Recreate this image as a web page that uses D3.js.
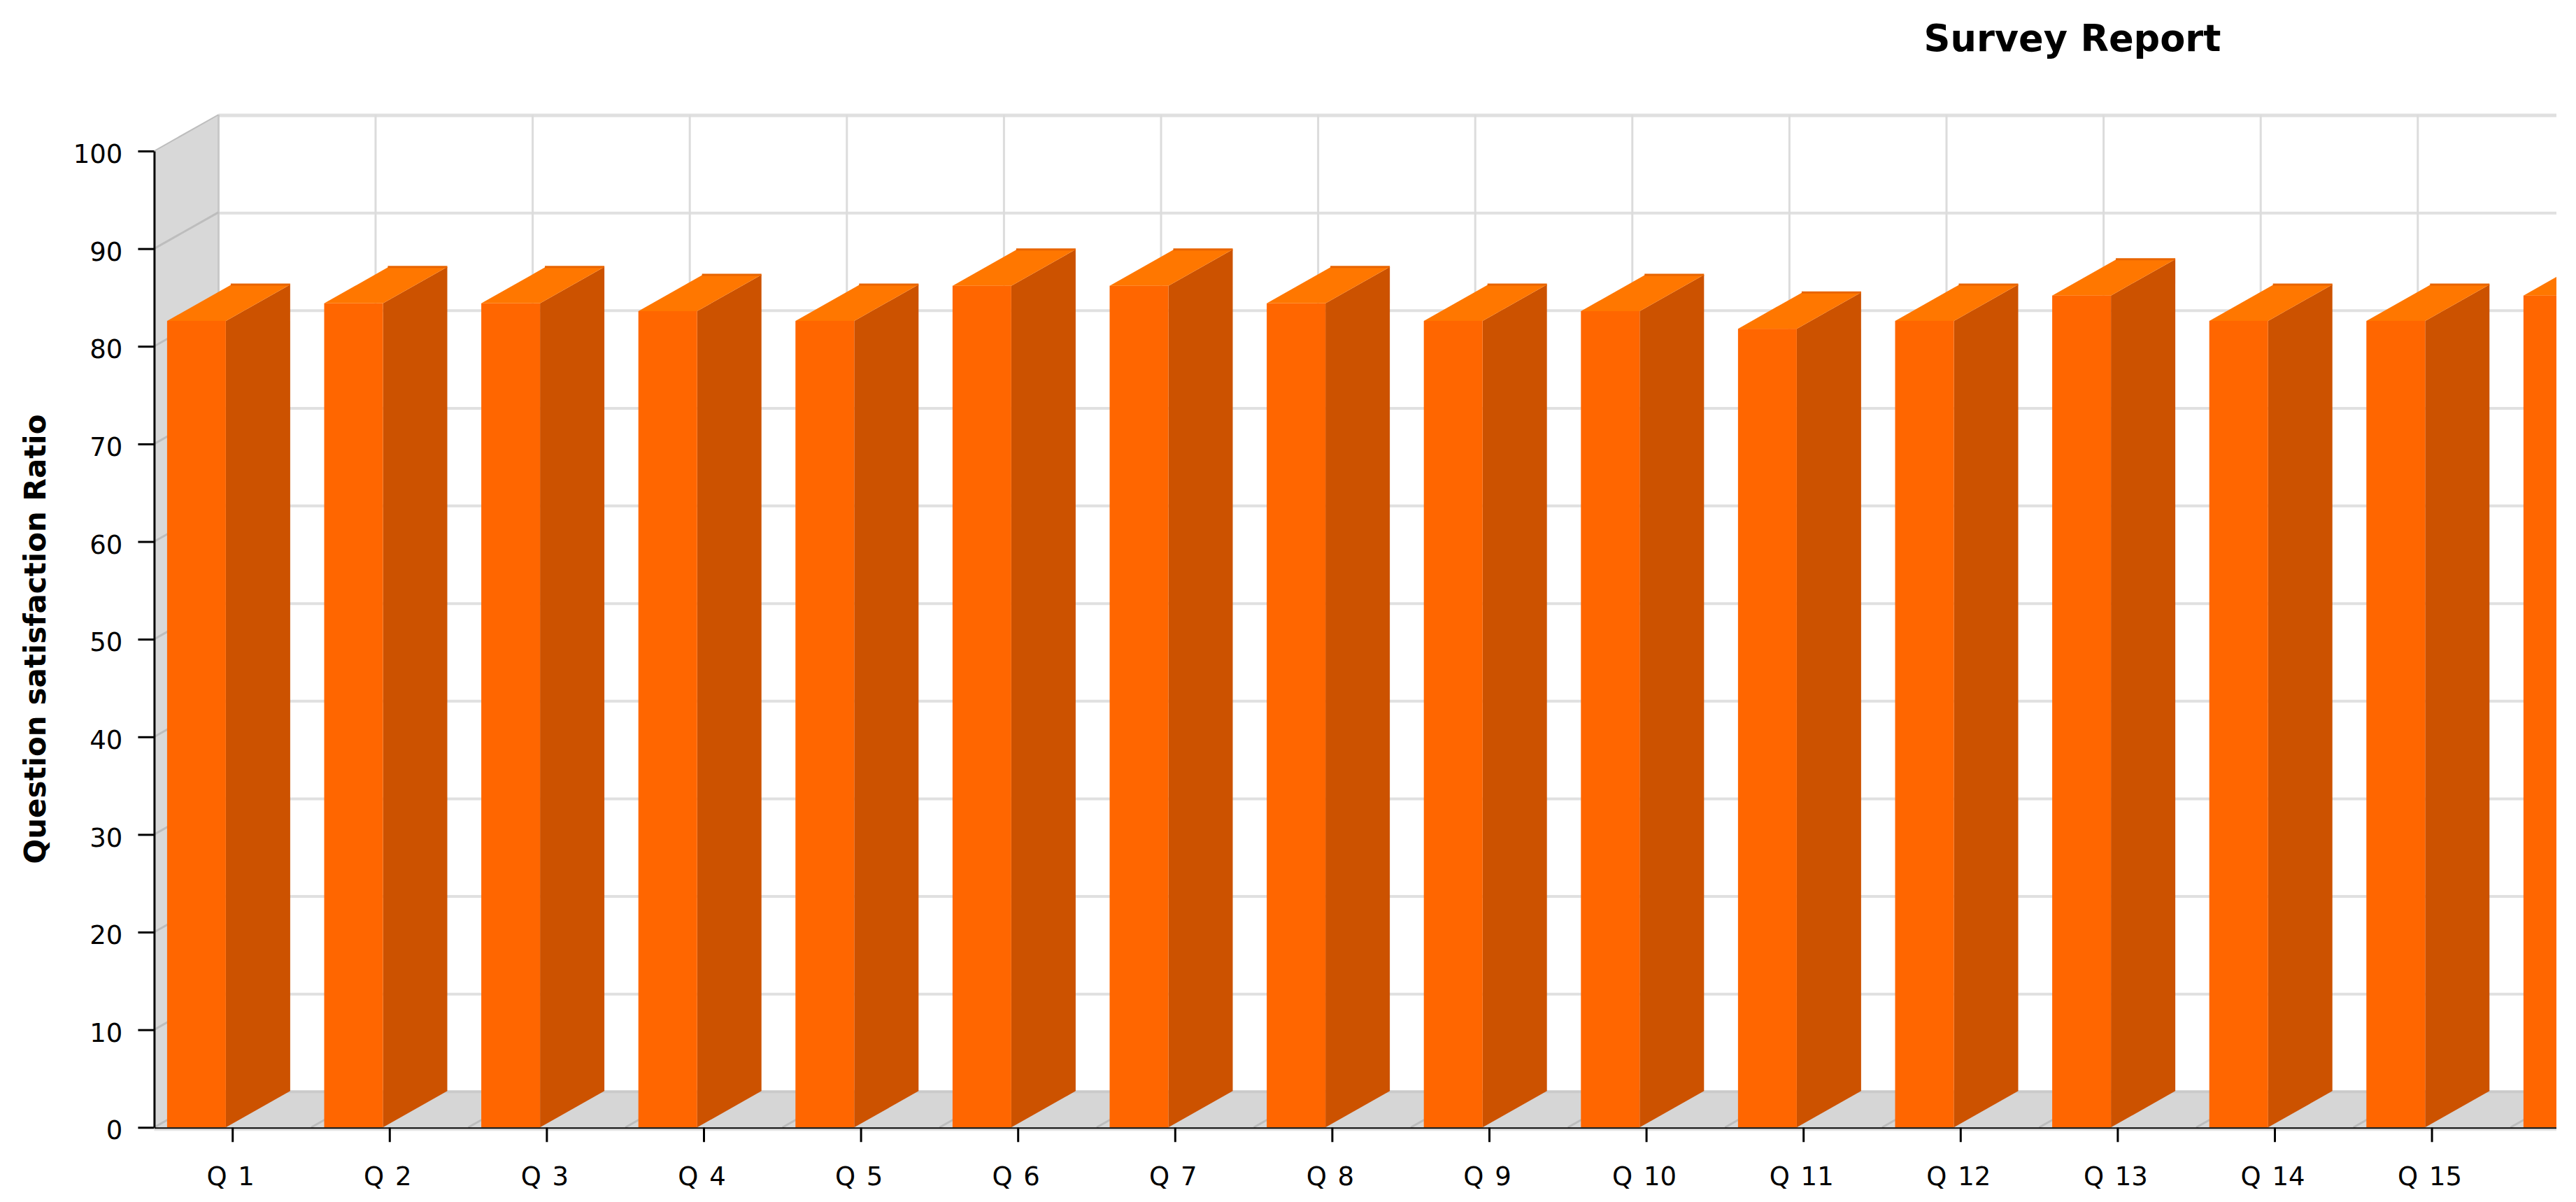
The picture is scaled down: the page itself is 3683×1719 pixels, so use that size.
<!DOCTYPE html>
<html>
<head>
<meta charset="utf-8">
<script src="https://cdn.jsdelivr.net/npm/d3@7/dist/d3.min.js"></script>
<style>
html,body{margin:0;padding:0;background:#fff;overflow:hidden}
svg{display:block}
text{font-family:"DejaVu Sans",Verdana,sans-serif;fill:#000}
</style>
</head>
<body>
<script>
const categories = ["Q 1","Q 2","Q 3","Q 4","Q 5","Q 6","Q 7","Q 8","Q 9","Q 10","Q 11","Q 12","Q 13","Q 14","Q 15","Q 16"];
const ratios = [82.6,84.4,84.4,83.6,82.6,86.2,86.2,84.4,82.6,83.6,81.8,82.6,85.2,82.6,82.6,85.2];
const yTicks = [0,10,20,30,40,50,60,70,80,90,100];
const visibleCategories = categories.slice(0,15);
const titleText = "Survey Report";
const yTitleText = "Question satisfaction Ratio";

const W=3683,H=1719;
const left=220.4,step=224.6,right=3655,y0=1612.3,y100=216;
const dx=92,dy=-52,barOffset=18.5,barW=84;

const svg=d3.select("body").append("svg").attr("width",W).attr("height",H);
svg.append("defs").append("clipPath").attr("id","plot")
  .append("rect").attr("x",0).attr("y",0).attr("width",right).attr("height",H);

const x=d3.scaleBand().domain(categories).range([left,left+categories.length*step]).padding(0);
const y=d3.scaleLinear().domain([0,100]).range([y0,y100]);
const pts=a=>a.map(p=>p.join(",")).join(" ");

const plot=svg.append("g").attr("clip-path","url(#plot)");

// left wall
plot.append("polygon").attr("fill","#d8d8d8")
  .attr("points",pts([[left,y100],[left+dx,y100+dy],[left+dx,y0+dy],[left,y0]]));
// floor
plot.append("polygon").attr("fill","#d6d6d6")
  .attr("points",pts([[left,y0],[left+dx,y0+dy],[right,y0+dy],[right,y0]]));
// back wall horizontal grid
plot.selectAll("line.hgrid").data(yTicks).join("line").attr("class","hgrid")
  .attr("x1",left+dx).attr("x2",right)
  .attr("y1",d=>y(d)+dy+1).attr("y2",d=>y(d)+dy+1)
  .attr("stroke",d=>d===0?"#cacaca":"#e0e0e0").attr("stroke-width",d=>d===100?5:4);
// back wall vertical grid
plot.selectAll("line.vgrid").data(categories).join("line").attr("class","vgrid")
  .attr("x1",d=>x(d)+dx+step).attr("x2",d=>x(d)+dx+step)
  .attr("y1",y100+dy).attr("y2",y0+dy)
  .attr("stroke","#dcdcdc").attr("stroke-width",3);
// wall right edge
plot.append("line").attr("x1",left+dx).attr("x2",left+dx).attr("y1",y100+dy).attr("y2",y0+dy)
  .attr("stroke","#c8c8c8").attr("stroke-width",3);
// wall slanted grid
plot.selectAll("line.wgrid").data(yTicks).join("line").attr("class","wgrid")
  .attr("x1",left).attr("x2",left+dx)
  .attr("y1",d=>y(d)).attr("y2",d=>y(d)+dy)
  .attr("stroke","#bdbdbd").attr("stroke-width",d=>d===100?2:3);
// floor slanted grid
plot.selectAll("line.fgrid").data(categories).join("line").attr("class","fgrid")
  .attr("x1",d=>x(d)+step).attr("x2",d=>x(d)+step+dx)
  .attr("y1",y0).attr("y2",y0+dy)
  .attr("stroke","#bdbdbd").attr("stroke-width",3);

// bars
const bars=plot.selectAll("g.bar").data(categories.map((c,i)=>({c,v:ratios[i]}))).join("g").attr("class","bar");
const bl=d=>x(d.c)+barOffset;
bars.append("polygon").attr("fill","#cc5200")
  .attr("points",d=>pts([[bl(d)+barW,y(d.v)],[bl(d)+barW+dx,y(d.v)+dy],[bl(d)+barW+dx,y0+dy],[bl(d)+barW,y0]]));
bars.append("polygon").attr("fill","#ff7700")
  .attr("points",d=>pts([[bl(d),y(d.v)],[bl(d)+dx,y(d.v)+dy],[bl(d)+barW+dx,y(d.v)+dy],[bl(d)+barW,y(d.v)]]));
bars.append("line").attr("stroke","#e86400").attr("stroke-width",3)
  .attr("x1",d=>bl(d)+dx-1).attr("x2",d=>bl(d)+barW+dx)
  .attr("y1",d=>y(d.v)+dy).attr("y2",d=>y(d.v)+dy);
bars.append("rect").attr("fill","#ff6600")
  .attr("x",bl).attr("y",d=>y(d.v)).attr("width",barW).attr("height",d=>y0-y(d.v));

// x axis shadow
plot.append("line").attr("x1",left).attr("x2",right).attr("y1",y0+3.5).attr("y2",y0+3.5)
  .attr("stroke","#e4e4e4").attr("stroke-width",3);

// axes
const fs=37;
const xAxis=d3.axisBottom(x).tickValues(visibleCategories).tickSize(21).tickSizeOuter(0).tickPadding(35);
const gx=svg.append("g").attr("clip-path","url(#plot)").attr("transform",`translate(0,${y0})`).call(xAxis);
gx.selectAll("text").attr("font-size",fs).attr("font-family",null).attr("dx",-3).attr("word-spacing",4);
gx.selectAll("line").attr("stroke","#000").attr("stroke-width",3);
gx.select(".domain").attr("stroke","#000").attr("stroke-width",3);

const yAxis=d3.axisLeft(y).tickValues(yTicks).tickSize(23).tickSizeOuter(0).tickPadding(22);
const gy=svg.append("g").attr("transform",`translate(${left},0)`).call(yAxis);
gy.selectAll("text").attr("font-size",fs).attr("font-family",null).attr("dy","0.45em");
gy.selectAll("line").attr("stroke","#000").attr("stroke-width",3);
gy.select(".domain").attr("stroke","#000").attr("stroke-width",3);

// titles
svg.append("text").text(titleText).attr("x",2963).attr("y",73)
  .attr("text-anchor","middle").attr("font-weight","bold").attr("font-size",52.6);
svg.append("text").text(yTitleText)
  .attr("transform","translate(65,914) rotate(-90)")
  .attr("text-anchor","middle").attr("font-weight","bold").attr("font-size",42);
</script>
</body>
</html>
